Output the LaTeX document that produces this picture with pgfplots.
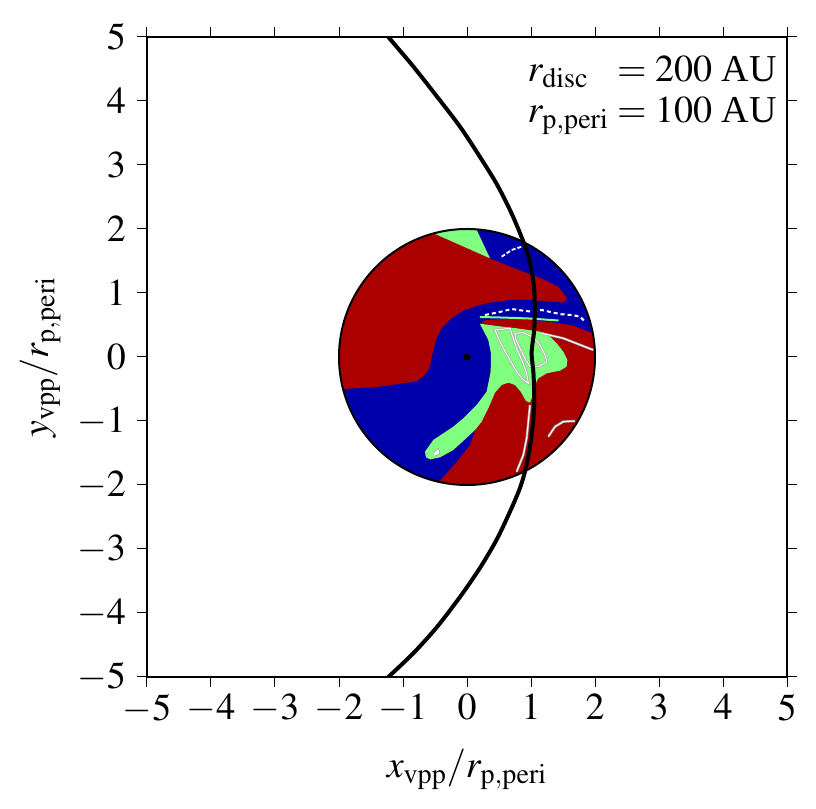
\documentclass[border=0pt]{standalone}
\usepackage{mathptmx}
\usepackage[no-math]{fontspec}
\setmainfont{Liberation Serif}
\usepackage{pgfplots}
\pgfplotsset{compat=1.18}

\definecolor{dred}{RGB}{170,0,0}
\definecolor{dblue}{RGB}{0,0,170}
\definecolor{lgreen}{RGB}{128,255,128}

\begin{document}
\begin{tikzpicture}
\useasboundingbox (-73.5pt,-66pt) rectangle (334.5pt,338.5pt);
\begin{axis}[
    at={(0pt,0pt)}, anchor=south west,
    scale only axis,
    width=320pt, height=320pt,
    xmin=-5, xmax=5, ymin=-5, ymax=5,
    xtick={-5,...,5}, ytick={-5,...,5},
    tick align=outside,
    major tick length=5pt,
    tick style={black, line width=0.5pt},
    axis line style={line width=1pt},
    ticklabel style={font=\fontsize{19}{22}\selectfont},
    label style={font=\fontsize{19}{22}\selectfont},
    yticklabel style={xshift=-2pt},
    xlabel={$x_{\mathrm{vpp}}/r_{\mathrm{p,peri}}$},
    ylabel={$y_{\mathrm{vpp}}/r_{\mathrm{p,peri}}$},
    xlabel style={at={(axis description cs:0.5,-0.145)}, anchor=center},
    ylabel style={at={(axis description cs:-0.167,0.5)}, anchor=center},
]

\begin{scope}
\clip (axis cs:0,0) circle [radius=64pt];
% base: red
\addplot[fill=dred, draw=none] coordinates {(-2.5,-2.5) (2.5,-2.5) (2.5,2.5) (-2.5,2.5)};
% blue region
\addplot[fill=dblue, draw=none] coordinates {
(-2.5,-0.51) (-2.036,-0.505) (-1.724,-0.490) (-1.359,-0.464) (-0.995,-0.411)
(-0.786,-0.385) (-0.656,-0.281) (-0.578,-0.151) (-0.536,0.057) (-0.484,0.266)
(-0.396,0.448) (-0.240,0.604) (-0.057,0.724) (0.151,0.797) (0.359,0.849)
(0.672,0.891) (0.984,0.891) (1.297,0.865) (1.505,0.849) (1.568,0.901)
(1.531,0.969) (1.427,1.099) (1.167,1.229) (0.750,1.385) (0.359,1.542)
(0.151,1.984) (0.078,2.141) (2.5,2.5) (2.5,0.37)
(1.974,0.370) (1.635,0.500) (1.271,0.552) (0.750,0.604) (0.281,0.578) (0.203,0.516)
(0.266,0.396) (0.333,0.266) (0.375,0.057) (0.370,-0.229) (0.307,-0.542)
(0.151,-0.750) (-0.057,-0.958) (-0.214,-1.089) (-0.526,-1.297) (-0.656,-1.479)
(-0.641,-1.568) (-0.578,-1.599) (-0.422,-1.568) (-0.214,-1.453) (-0.031,-1.286)
(0.151,-1.0625) (0.047,-1.375) (-0.161,-1.635) (-0.422,-1.932) (-0.578,-2.18)
(-2.5,-2.5)
};
% green wedge at the top
\addplot[fill=lgreen, draw=none] coordinates {(-0.839,2.073) (0.078,2.141) (0.359,1.542)};
% green blob with tongue
\addplot[fill=lgreen, draw=none] coordinates {
(0.203,0.516) (0.266,0.396) (0.333,0.266) (0.375,0.057) (0.370,-0.229)
(0.307,-0.542) (0.151,-0.750) (-0.057,-0.958) (-0.214,-1.089) (-0.526,-1.297)
(-0.656,-1.479) (-0.641,-1.568) (-0.578,-1.599) (-0.422,-1.568) (-0.214,-1.453)
(-0.031,-1.286) (0.125,-1.141) (0.229,-1.010) (0.333,-0.802) (0.4375,-0.557)
(0.542,-0.4375) (0.646,-0.401) (0.750,-0.4375) (0.839,-0.542) (0.922,-0.6875)
(0.984,-0.7135) (1.021,-0.620) (1.047,-0.464) (1.115,-0.333) (1.245,-0.255)
(1.453,-0.2135) (1.557,-0.151) (1.568,-0.047) (1.505,0.083) (1.401,0.2135)
(1.271,0.344) (1.141,0.396) (0.776,0.448) (0.464,0.484) (0.229,0.516)
};
% thin green line above the red band
\addplot[lgreen, line width=1pt] coordinates {(0.20,0.625) (0.60,0.615) (1.00,0.600) (1.43,0.570)};
% white features
\addplot[white, line width=1pt, dash pattern=on 2pt off 1.5pt] coordinates {
(0.281,0.656) (0.49,0.698) (0.698,0.750) (0.802,0.734) (1.01,0.708) (1.167,0.734)
(1.323,0.698) (1.479,0.667) (1.635,0.656) (1.766,0.630) (1.844,0.552)};
\addplot[white, line width=0.9pt, dash pattern=on 2pt off 1pt] coordinates {
(0.542,1.568) (0.698,1.672) (0.906,1.74)};
\addplot[gray!70, line width=1.2pt] coordinates {(1.167,0.37) (1.505,0.292) (1.974,0.109)};
\addplot[white, line width=0.5pt] coordinates {(1.167,0.37) (1.505,0.292) (1.974,0.109)};
\addplot[gray!70, line width=1.2pt] coordinates {
(0.672,0.448) (0.4375,0.422) (0.49,0.292) (0.568,0.135) (0.672,-0.047) (0.776,-0.229)
(0.880,-0.359) (0.958,-0.411) (0.932,-0.255) (0.854,-0.047) (0.776,0.135) (0.714,0.318) (0.672,0.448)};
\addplot[white, line width=0.5pt] coordinates {
(0.672,0.448) (0.4375,0.422) (0.49,0.292) (0.568,0.135) (0.672,-0.047) (0.776,-0.229)
(0.880,-0.359) (0.958,-0.411) (0.932,-0.255) (0.854,-0.047) (0.776,0.135) (0.714,0.318) (0.672,0.448)};
\addplot[gray!70, line width=1.2pt] coordinates {
(0.75,0.37) (0.880,0.380) (1.036,0.307) (1.141,0.1875) (1.219,0.031) (1.245,-0.073)
(1.115,-0.151) (0.984,-0.151) (0.906,-0.021) (0.828,0.135) (0.766,0.266) (0.75,0.37)};
\addplot[white, line width=0.5pt] coordinates {
(0.75,0.37) (0.880,0.380) (1.036,0.307) (1.141,0.1875) (1.219,0.031) (1.245,-0.073)
(1.115,-0.151) (0.984,-0.151) (0.906,-0.021) (0.828,0.135) (0.766,0.266) (0.75,0.37)};
\addplot[fill=white, draw=gray!70, line width=0.4pt] coordinates {
(-0.526,-1.505) (-0.448,-1.427) (-0.422,-1.505) (-0.50,-1.55)};
\addplot[gray!70, line width=1.2pt] coordinates {
(1.271,-1.245) (1.375,-1.089) (1.505,-1.010) (1.6875,-1.0)};
\addplot[white, line width=0.5pt] coordinates {
(1.271,-1.245) (1.375,-1.089) (1.505,-1.010) (1.6875,-1.0)};
\addplot[gray!70, line width=1.2pt] coordinates {
(0.776,-1.792) (0.880,-1.531) (0.932,-1.271) (0.958,-1.010) (0.984,-0.750)};
\addplot[white, line width=0.5pt] coordinates {
(0.776,-1.792) (0.880,-1.531) (0.932,-1.271) (0.958,-1.010) (0.984,-0.750)};
\end{scope}
\draw[black, line width=1pt] (axis cs:0,0) circle [radius=64pt];

% perturber orbit
\addplot[black, line width=2pt, smooth, tension=0.5] coordinates {
(-1.23,5.0) (-0.84,4.54) (-0.47,4.07) (-0.11,3.60) (0.20,3.13) (0.46,2.71)
(0.67,2.30) (0.83,1.93) (0.96,1.57) (1.04,1.15) (1.06,0.79) (1.05,0.42)
(1.01,0.07) (1.04,-0.28) (1.05,-0.75) (1.01,-1.22) (0.93,-1.69) (0.83,-2.04)
(0.67,-2.42) (0.46,-2.86) (0.20,-3.30) (-0.11,-3.75) (-0.47,-4.22)
(-0.84,-4.63) (-1.23,-5.0)};
% host star
\addplot[only marks, mark=*, mark size=1.6pt, black] coordinates {(0,0)};

\node[anchor=base west, inner sep=0pt, font=\fontsize{19}{22}\selectfont] at (axis cs:0.94,4.30) {$r_{\mathrm{disc}}$};
\node[anchor=base west, inner sep=0pt, font=\fontsize{19}{22}\selectfont] at (axis cs:2.34,4.30) {$=200$ AU};
\node[anchor=base west, inner sep=0pt, font=\fontsize{19}{22}\selectfont] at (axis cs:0.94,3.67) {$r_{\mathrm{p,peri}}$};
\node[anchor=base west, inner sep=0pt, font=\fontsize{19}{22}\selectfont] at (axis cs:2.34,3.67) {$=100$ AU};
\end{axis}
\end{tikzpicture}
\end{document}
